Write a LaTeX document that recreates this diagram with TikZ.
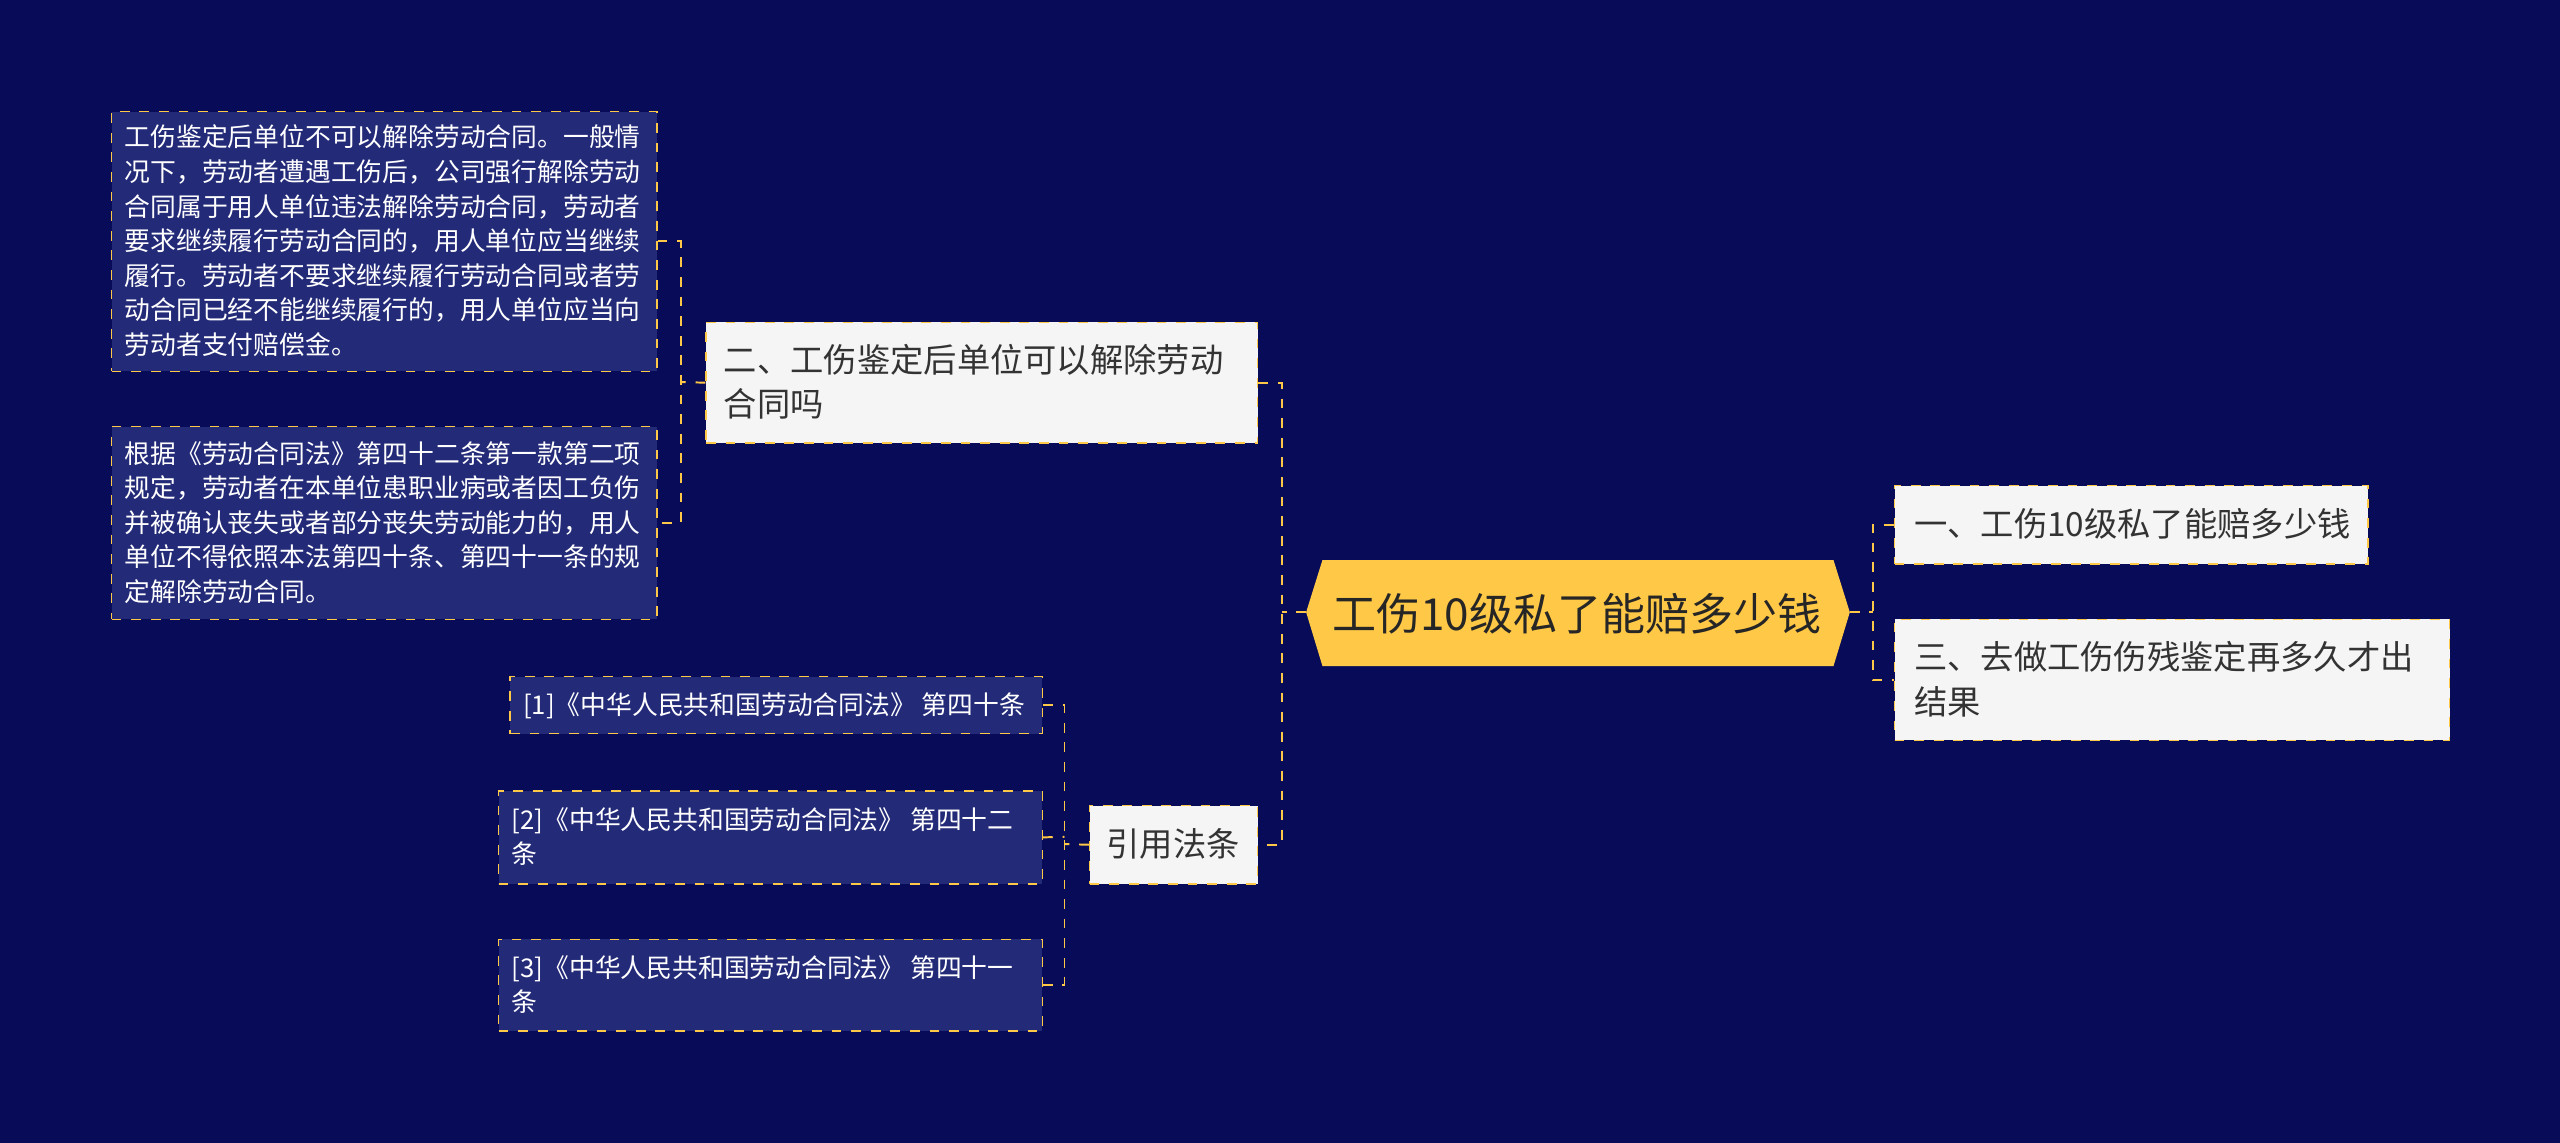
\documentclass[tikz,border=0pt]{standalone}
\usepackage{fontspec}
\newfontfamily\cjk{Noto Sans CJK SC}
\definecolor{bg}{RGB}{8,12,88}
\definecolor{leaf}{RGB}{35,42,120}
\definecolor{gold}{RGB}{255,200,70}
\definecolor{mid}{RGB}{245,245,245}
\begin{document}
\begin{tikzpicture}[x=0.5pt,y=-0.5pt,
 lnk/.style={draw=gold,dashed,line width=0.6pt},
 leafbox/.style={draw=gold,dashed,fill=leaf,inner sep=0pt,anchor=north west},
 midbox/.style={draw=gold,dashed,fill=mid,inner sep=0pt,anchor=north west},
 leaftxt/.style={font=\cjk\fontsize{7.9}{10.6}\selectfont,text=white,align=left,anchor=west,inner sep=0pt},
 midtxt/.style={font=\cjk\fontsize{10.2}{13.5}\selectfont,text=black!80,align=left,anchor=west,inner sep=0pt}]
\fill[bg] (0,0) rectangle (1568,700);
\useasboundingbox (0,0) rectangle (1568,700);
% center
\fill[gold] (800,375)--(810,343)--(1123,343)--(1133,375)--(1123,408)--(810,408)--cycle;
\node[font=\cjk\fontsize{13.5}{16}\selectfont,text=black!85,inner sep=0pt] (c) at (966,376) {工伤10级私了能赔多少钱};
\coordinate (cl) at (800,375); \coordinate (cr) at (1133,375);
% right
\node[midbox,minimum width=145pt,minimum height=24pt] (r1) at (1160,297) {};
\node[midtxt] (r1t) at (1172,321) {一、工伤10级私了能赔多少钱};
\node[midbox,minimum width=170pt,minimum height=37pt] (r2) at (1160,379) {};
\node[midtxt] (r2t) at (1172,416) {三、去做工伤伤残鉴定再多久才出\\结果};
% left mid
\node[midbox,minimum width=169pt,minimum height=37pt] (l1) at (432,197) {};
\node[midtxt] (l1t) at (443,234) {二、工伤鉴定后单位可以解除劳动\\合同吗};
\node[midbox,minimum width=51.5pt,minimum height=24pt] (l2) at (667,493) {};
\node[midtxt,anchor=center] (l2t) at (718.5,517) {引用法条};
% leaves
\node[leafbox,minimum width=167pt,minimum height=79.5pt] (a) at (68,68) {};
\node[leaftxt] (at) at (76,147.5) {工伤鉴定后单位不可以解除劳动合同。一般情\\况下，劳动者遭遇工伤后，公司强行解除劳动\\合同属于用人单位违法解除劳动合同，劳动者\\要求继续履行劳动合同的，用人单位应当继续\\履行。劳动者不要求继续履行劳动合同或者劳\\动合同已经不能继续履行的，用人单位应当向\\劳动者支付赔偿金。};
\node[leafbox,minimum width=167pt,minimum height=59pt] (b) at (68,261) {};
\node[leaftxt] (bt) at (76,320) {根据《劳动合同法》第四十二条第一款第二项\\规定，劳动者在本单位患职业病或者因工负伤\\并被确认丧失或者部分丧失劳动能力的，用人\\单位不得依照本法第四十条、第四十一条的规\\定解除劳动合同。};
\node[leafbox,minimum width=163pt,minimum height=17.5pt] (d1) at (312,414) {};
\node[leaftxt] (d1t) at (320,432) {[1]《中华人民共和国劳动合同法》 第四十条};
\node[leafbox,minimum width=166.5pt,minimum height=28.5pt] (d2) at (305,484) {};
\node[leaftxt] (d2t) at (313,512.5) {[2]《中华人民共和国劳动合同法》 第四十二\\条};
\node[leafbox,minimum width=166.5pt,minimum height=28pt] (d3) at (305,575) {};
\node[leaftxt] (d3t) at (313,603) {[3]《中华人民共和国劳动合同法》 第四十一\\条};
% links
\draw[lnk] (cl) -- (785,375);
\draw[lnk] (l1.east) -| (785,375) |- (l2.east);
\draw[lnk] (cr) -- (1147,375);
\draw[lnk] (r1.west) -| (1147,375) |- (r2.west);
\draw[lnk] (l1.west) -- (417,234);
\draw[lnk] (a.east) -| (417,234) |- (b.east);
\draw[lnk] (l2.west) -- (652,517);
\draw[lnk] (d1.east) -| (652,517) |- (d3.east);
\draw[lnk] (d2.east) -- (652,512.5);
\end{tikzpicture}
\end{document}
